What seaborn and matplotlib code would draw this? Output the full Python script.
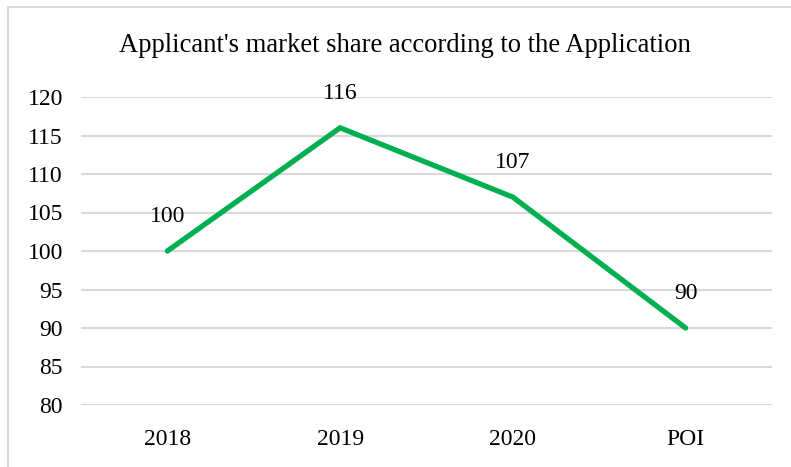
import matplotlib
matplotlib.use("Agg")
import matplotlib.pyplot as plt
import seaborn as sns
import pandas as pd
from matplotlib.patches import Rectangle

# Market share index by period
periods = ["2018", "2019", "2020", "POI"]
share_index = [100, 116, 107, 90]
y_ticks = [80, 85, 90, 95, 100, 105, 110, 115, 120]

sns.set_theme(style="white")
plt.rcParams["font.family"] = ["Liberation Serif", "DejaVu Serif"]

df = pd.DataFrame({"period": periods, "share": share_index})

W, H = 791, 467
fig = plt.figure(figsize=(W / 100, H / 100), dpi=100)
ax = fig.add_axes([81 / W, 1 - 405 / H, (772 - 81) / W, (405 - 97) / H])

sns.lineplot(data=df, x="period", y="share", ax=ax, color="#00B050",
             linewidth=3.8, sort=False, solid_capstyle="round",
             solid_joinstyle="miter")

ax.set_xlim(-0.5, len(periods) - 0.5)
ax.set_ylim(y_ticks[0], y_ticks[-1])
ax.set_yticks(y_ticks)
ax.set_xlabel("")
ax.set_ylabel("")

for s in ax.spines.values():
    s.set_visible(False)
ax.grid(axis="y", color="#D9D9D9", linewidth=1.5)
ax.grid(axis="x", visible=False)
ax.set_axisbelow(True)
ax.tick_params(axis="y", length=0, pad=13, labelsize=17, colors="black")
ax.tick_params(axis="x", length=0, pad=17, labelsize=17, colors="black")

for i, v in enumerate(share_index):
    ax.annotate(str(v), (i, v), xytext=(0, 25), textcoords="offset points",
                ha="center", va="center", fontsize=17, color="black")

fig.text(405 / W, 1 - 45 / H, "Applicant's market share according to the Application",
         ha="center", va="center", fontsize=19.2, color="black")

fig.patches.append(Rectangle((8 / W, -0.05), 1.2, 1 - 7 / H + 0.05,
                             transform=fig.transFigure, fill=False,
                             edgecolor="#D9D9D9", linewidth=1.5))

fig.savefig("out.png", dpi=100, facecolor="white")
